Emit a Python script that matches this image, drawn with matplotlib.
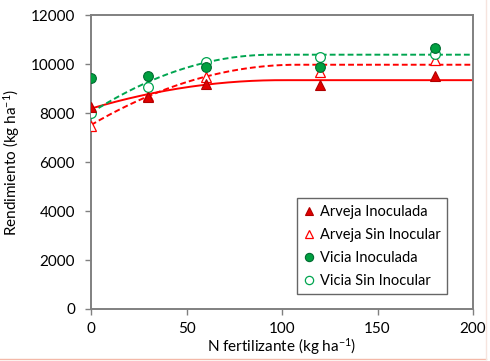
import matplotlib
matplotlib.use('Agg')

import numpy as np
import matplotlib.pyplot as plt
from matplotlib.lines import Line2D

plt.rcParams['font.family'] = ['Lato', 'DejaVu Sans']
plt.rcParams['mathtext.fontset'] = 'custom'
plt.rcParams['mathtext.rm'] = 'Lato'
plt.rcParams['mathtext.default'] = 'regular'

# N dose (kg/ha) and yields (kg/ha)
nDose = [0, 30, 60, 120, 180]
arvejaInoc = [8230, 8640, 9200, 9140, 9490]
arvejaSin = [7480, 8700, 9450, 9680, 10180]
viciaInoc = [9410, 9520, 9890, 9860, 10650]
viciaSin = [8010, 9060, 10100, 10270, 10420]

# quadratic-plateau fits: (plateau, yield at 0, dose where plateau starts)
fitArvejaInoc = (9340, 8180, 100)
fitArvejaSin = (9970, 7510, 108)
fitViciaSin = (10380, 8010, 95)

red = '#ff0000'
darkRed = '#b00000'
green = '#00a550'
darkGreen = '#006a30'

def quadPlateau(x, p):
    plateau, y0, x0 = p
    k = (plateau - y0) / x0**2
    return np.where(x < x0, plateau - k*(x0 - x)**2, plateau)

xFit = np.linspace(0, 200, 400)

fig = plt.figure(figsize=(4.90, 3.61), dpi=100)
ax = fig.add_axes([91/490, 1-309/361, 382/490, 294/361])

ax.plot(xFit, quadPlateau(xFit, fitArvejaInoc), color=red, lw=1.4, zorder=2)
ax.plot(xFit, quadPlateau(xFit, fitArvejaSin), color=red, lw=1.4, ls=(0, (3, 1.6)), zorder=2)
ax.plot(xFit, quadPlateau(xFit, fitViciaSin), color=green, lw=1.4, ls=(0, (3, 1.6)), zorder=2)

ax.plot(nDose, arvejaSin, ls='none', marker='^', ms=7, mfc='white', mec=red, mew=0.9,
        label='Arveja Sin Inocular', zorder=3)
ax.plot(nDose, viciaSin, ls='none', marker='o', ms=7, mfc='white', mec=green, mew=0.9,
        label='Vicia Sin Inocular', zorder=3)
ax.plot(nDose, arvejaInoc, ls='none', marker='^', ms=7, mfc='#e00000', mec=darkRed, mew=0.8,
        label='Arveja Inoculada', zorder=4)
ax.plot(nDose, viciaInoc, ls='none', marker='o', ms=7, mfc='#00a040', mec=darkGreen, mew=0.8,
        label='Vicia Inoculada', zorder=4)

ax.set_xlim(0, 200)
ax.set_ylim(0, 12000)
ax.set_xticks([0, 50, 100, 150, 200])
ax.set_yticks(np.arange(0, 12001, 2000))
ax.tick_params(direction='out', length=4.5, width=1, color='#808080', labelsize=11)
ax.tick_params(axis='x', pad=5)
ax.tick_params(axis='y', pad=7)
for s in ax.spines.values():
    s.set_color('#808080')
    s.set_linewidth(1.4)

ax.set_xlabel('N fertilizante (kg ha$^{-1}$)', fontsize=11, labelpad=0)
ax.set_ylabel('Rendimiento (kg ha$^{-1}$)', fontsize=11, labelpad=6)

handles, labels = ax.get_legend_handles_labels()
order = ['Arveja Inoculada', 'Arveja Sin Inocular', 'Vicia Inoculada', 'Vicia Sin Inocular']
hMap = dict(zip(labels, handles))
leg = ax.legend([hMap[k] for k in order], order, loc='lower left',
                bbox_to_anchor=(0.54, 0.05), fontsize=10.5, frameon=True, fancybox=False,
                handlelength=0.7, handletextpad=0.4, borderpad=0.45, labelspacing=0.62,
                markerscale=0.85, borderaxespad=0)
leg.get_frame().set_edgecolor('#404040')
leg.get_frame().set_linewidth(1)

# faint border lines at the figure edge
fig.add_artist(Line2D([0, 486/490], [1-359/361]*2, transform=fig.transFigure, color='#f4b8a8', lw=1))
fig.add_artist(Line2D([486/490]*2, [1-359/361, 1], transform=fig.transFigure, color='#f6e4de', lw=1))

fig.savefig('out.png', dpi=100)
